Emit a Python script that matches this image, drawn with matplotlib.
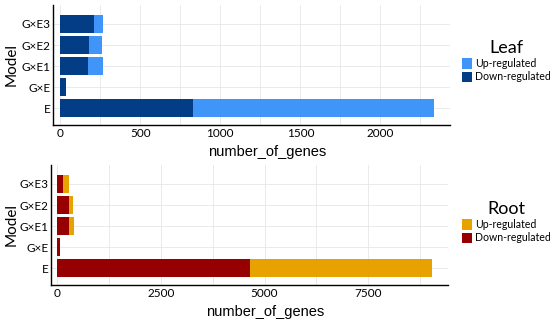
import matplotlib
matplotlib.use("Agg")
import matplotlib.pyplot as plt
from matplotlib.patches import Patch
import numpy as np

models = ["E", "G×E", "G×E1", "G×E2", "G×E3"]
leaf_down = [828, 35, 176, 180, 209]
leaf_up = [1506, 0, 92, 81, 57]
root_down = [4650, 55, 285, 285, 126]
root_up = [4395, 10, 121, 97, 164]
leaf_ticks = [0, 500, 1000, 1500, 2000]
root_ticks = [0, 2500, 5000, 7500]

W, H = 550, 322
fig = plt.figure(figsize=(W / 100, H / 100), dpi=100)

def px_axes(l, t, r, b):
    return fig.add_axes([l / W, 1 - b / H, (r - l) / W, (b - t) / H])

grid_c = "#e6e6e6"

def draw(ax, left_px, down, up, cd, cu, ticks, xlim, title, ty):
    y = np.arange(len(models))
    ax.barh(y, down, height=0.88, color=cd, zorder=2)
    ax.barh(y, up, left=down, height=0.88, color=cu, zorder=2)
    ax.set_xlim(*xlim)
    ax.set_ylim(-0.8, 4.9)
    ax.set_yticks(y)
    ax.set_yticklabels(models, family="Lato", fontsize=8.5)
    ax.set_xticks(ticks)
    ax.set_xticklabels([str(t) for t in ticks], family="Lato", fontsize=8.5)
    step = ticks[1] - ticks[0]
    minors = [t + step / 2 for t in ticks]
    ax.set_xticks(minors, minor=True)
    ax.tick_params(axis="both", which="both", length=0, pad=2)
    ax.grid(True, which="both", axis="x", color=grid_c, lw=0.6, zorder=0)
    ax.grid(True, which="major", axis="y", color=grid_c, lw=0.6, zorder=0)
    ax.set_axisbelow(True)
    for s in ["top", "right"]:
        ax.spines[s].set_visible(False)
    for s in ["left", "bottom"]:
        ax.spines[s].set_linewidth(1.0)
        ax.spines[s].set_color("black")
    ax.set_xlabel("number_of_genes", family="Liberation Sans", fontsize=10.5)
    ax.xaxis.set_label_coords(0.54, -0.17)
    ax.xaxis.label.set_va("top")
    ax.set_ylabel("Model", family="Lato", fontsize=11)
    ax.yaxis.set_label_coords((12 - left_px) / 397, 0.5)
    ax.yaxis.label.set_va("center")
    handles = [Patch(facecolor=cu, label="Up-regulated"),
               Patch(facecolor=cd, label="Down-regulated")]
    leg = fig.legend(handles=handles, loc="upper left",
                     bbox_to_anchor=(462 / W, 1 - ty / H), frameon=False,
                     title=title, prop={"family": "Lato", "size": 7.6},
                     handlelength=0.9, handleheight=1.1, handletextpad=0.3,
                     labelspacing=0.2, borderaxespad=0, borderpad=0)
    leg.get_title().set_fontsize(13)
    leg.get_title().set_family("Lato")

ax1 = px_axes(53, 5, 450, 125)
draw(ax1, 53, leaf_down, leaf_up, "#023d85", "#4096f8", leaf_ticks, (-45, 2435), "Leaf", 40)
ax2 = px_axes(51, 165, 448, 285)
draw(ax2, 51, root_down, root_up, "#960000", "#e8a200", root_ticks, (-155, 9430), "Root", 201)

fig.savefig("out.png", dpi=100)
